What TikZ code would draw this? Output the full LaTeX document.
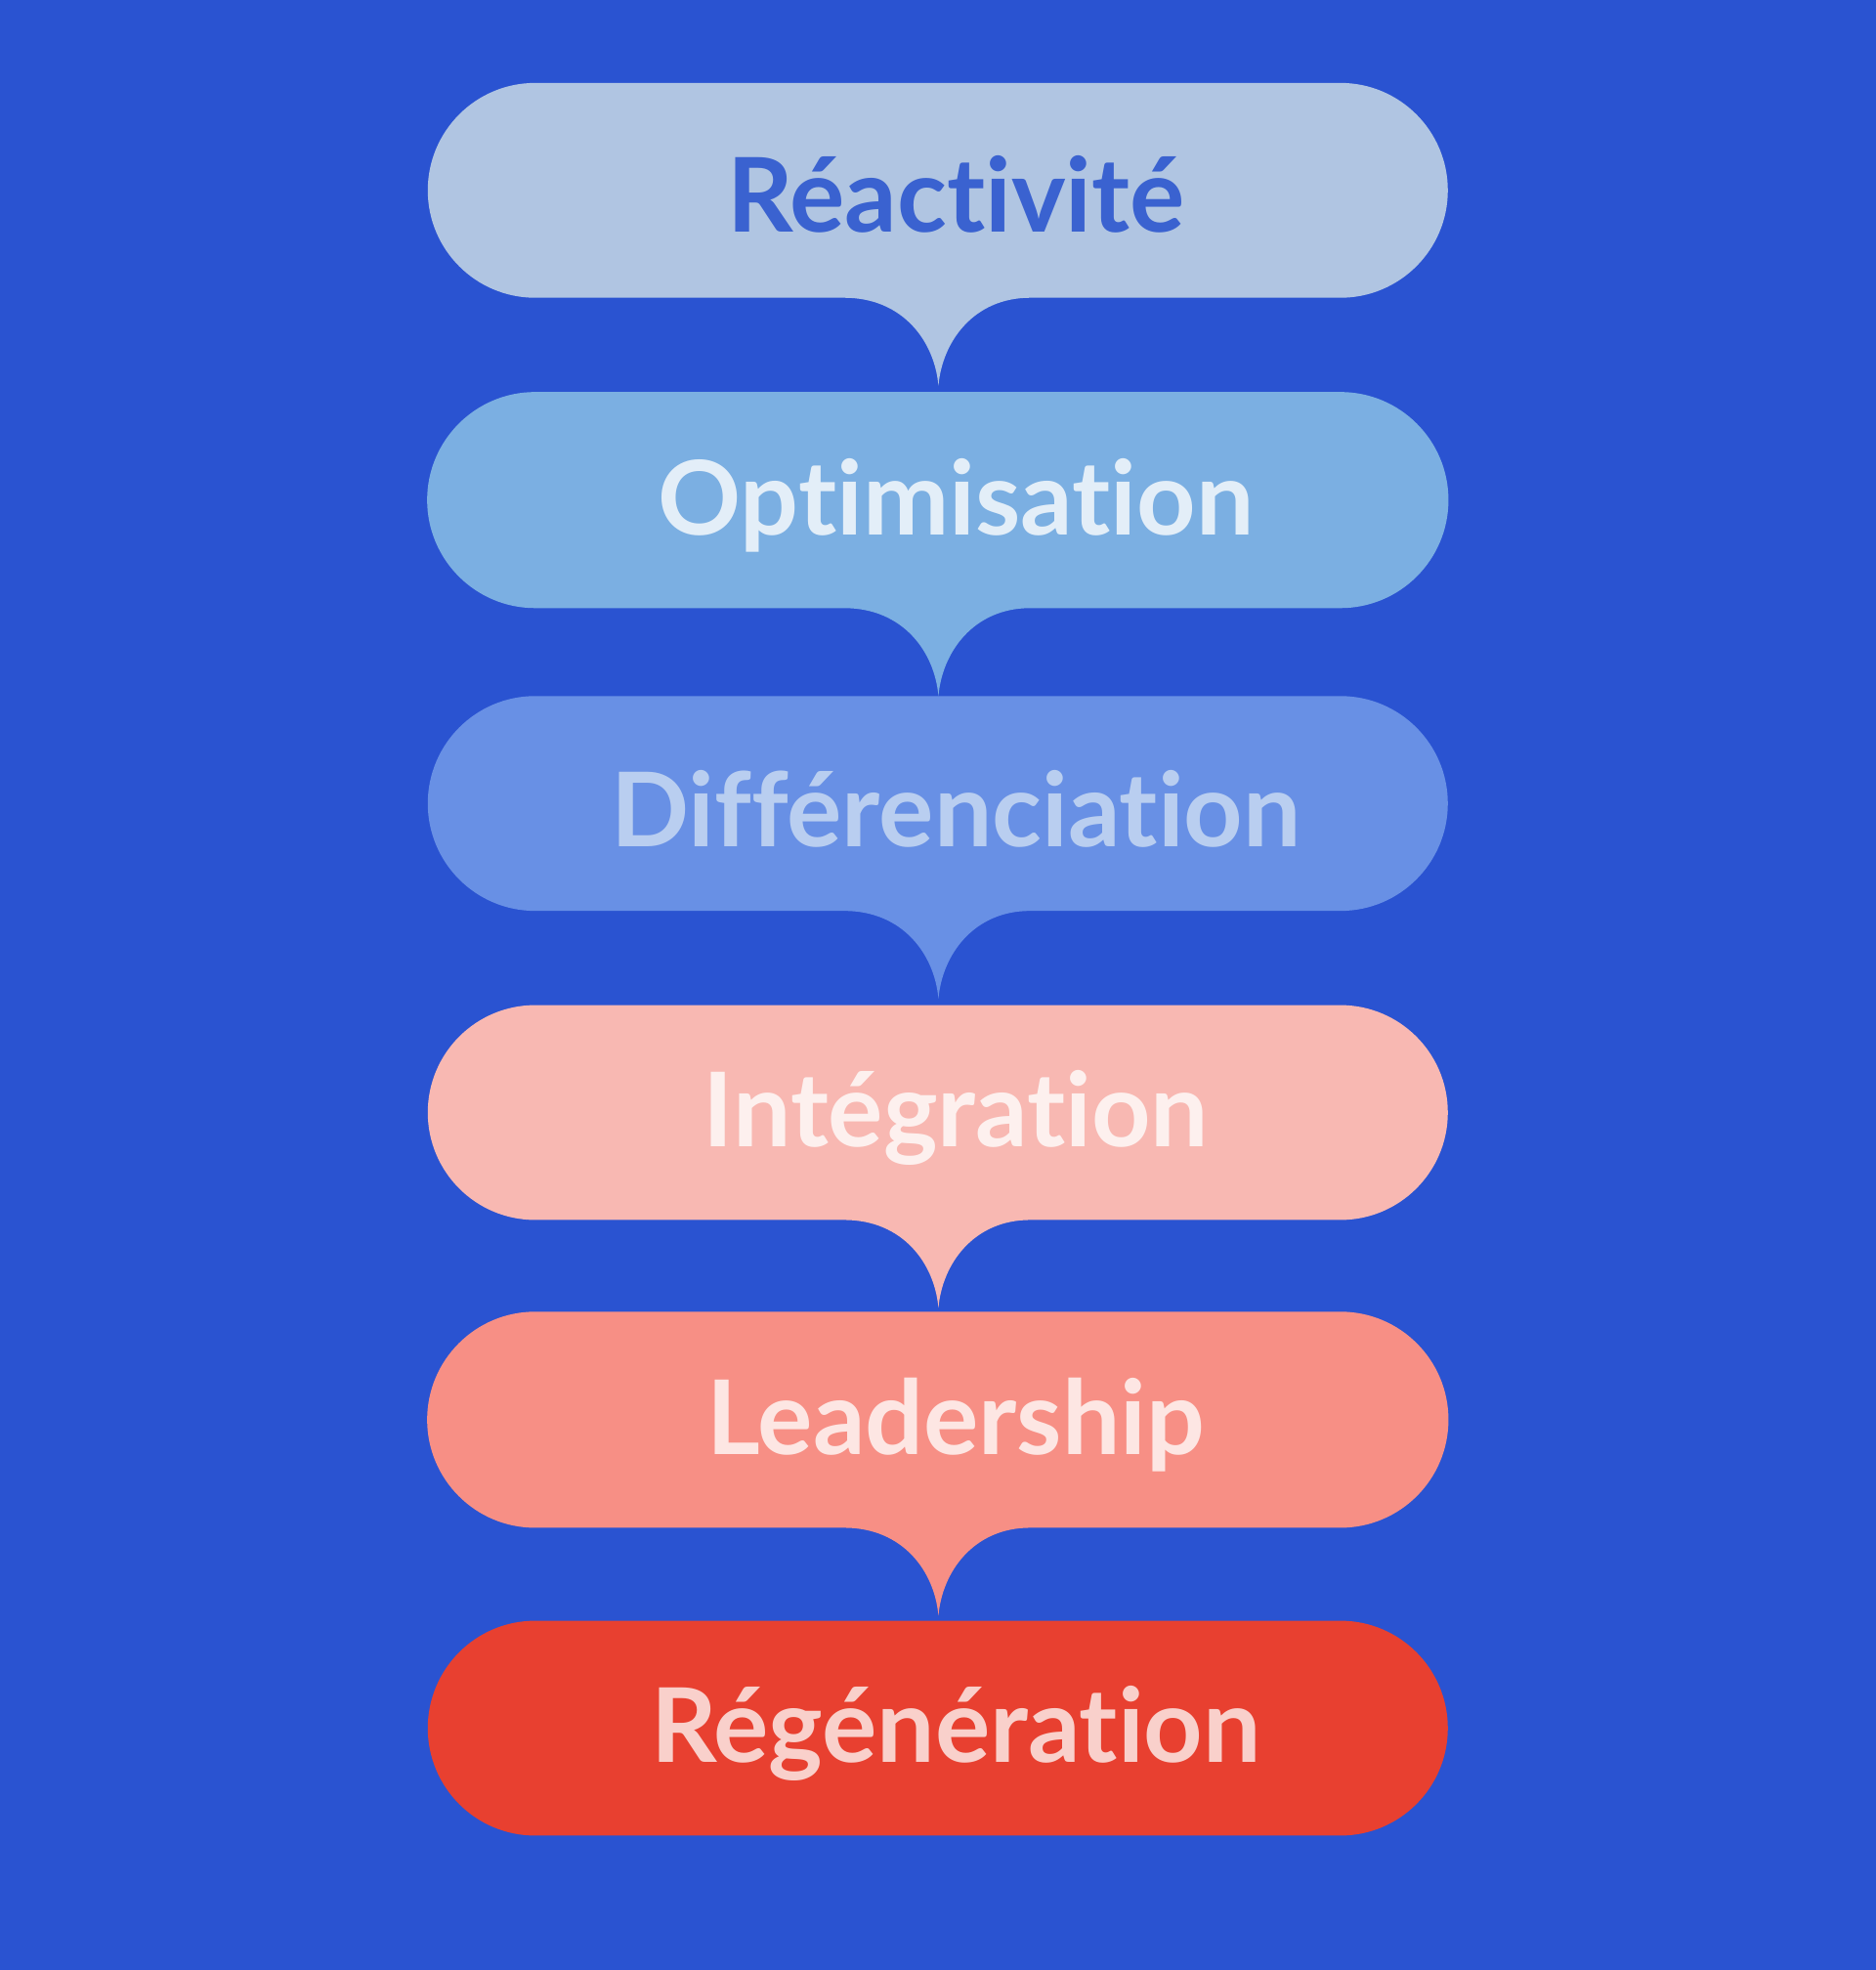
\documentclass[tikz,border=0pt]{standalone}
\usepackage{fontspec}
\setmainfont[Ligatures={NoCommon,NoRare}]{Lato}
\definecolor{bg}{HTML}{2A53D1}
\definecolor{f1}{HTML}{B0C5E2}\definecolor{t1}{HTML}{3A62D0}
\definecolor{f2}{HTML}{7BAFE2}\definecolor{t2}{HTML}{E3EEF8}
\definecolor{f3}{HTML}{6890E5}\definecolor{t3}{HTML}{B9CEF0}
\definecolor{f4}{HTML}{F8B8B2}\definecolor{t4}{HTML}{FDF0EE}
\definecolor{f5}{HTML}{F78F85}\definecolor{t5}{HTML}{FDE6E3}
\definecolor{f6}{HTML}{E84030}\definecolor{t6}{HTML}{F9D0CB}
\tikzset{lbl/.style={font=\fontsize{82}{90}\selectfont\bfseries}}
\newcommand{\pilltail}[3]{% top, bottom, color
  \fill[#3] (426,#1) -- (1067,#1) arc[start angle=-90,end angle=90,radius={(#2-#1)/2}]
   -- (820,#2) .. controls (775,#2) and (750,#2+35) .. (747,#2+70)
   .. controls (744,#2+35) and (719,#2) .. (672,#2) -- (426,#2)
   arc[start angle=90,end angle=270,radius={(#2-#1)/2}] -- cycle;}
\newcommand{\pillplain}[3]{%
  \fill[#3] (426,#1) -- (1067,#1) arc[start angle=-90,end angle=90,radius={(#2-#1)/2}]
   -- (426,#2) arc[start angle=90,end angle=270,radius={(#2-#1)/2}] -- cycle;}
\begin{document}
\begin{tikzpicture}[x=1pt,y=-1pt]
\fill[bg] (0,0) rectangle (1493,1568);
\useasboundingbox (0,0) rectangle (1493,1568);
\pilltail{66}{237}{f1}
\pilltail{312}{484}{f2}
\pilltail{554}{725}{f3}
\pilltail{800}{971}{f4}
\pilltail{1044}{1216}{f5}
\pillplain{1290}{1461}{f6}
\node[lbl,text=t1] (n1) at (761,155) {Réactivité};
\node[lbl,text=t2] (n2) at (761,402) {Optimisation};
\node[lbl,text=t3] (n3) at (761,644) {Différenciation};
\node[lbl,text=t4] (n4) at (761,890) {Intégration};
\node[lbl,text=t5] (n5) at (761,1134) {Leadership};
\node[lbl,text=t6] (n6) at (761,1380) {Régénération};
\end{tikzpicture}
\end{document}
